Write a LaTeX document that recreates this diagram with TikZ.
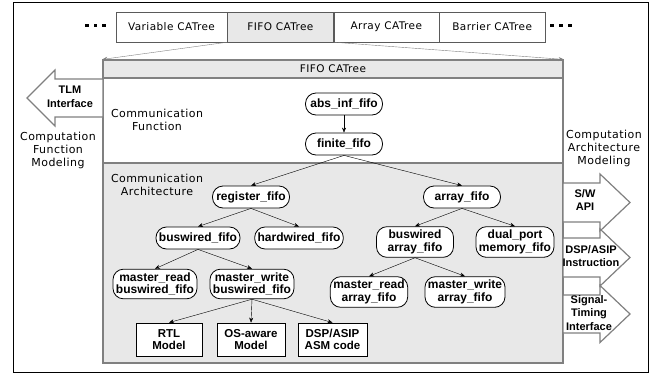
\documentclass[tikz,border=0pt]{standalone}
\usepackage{fontspec}
\setmainfont{Liberation Sans}
\newfontfamily\plainfont[LetterSpace=4]{DejaVu Sans}
\usepackage{xcolor}
\usepackage{tikz}
\usetikzlibrary{arrows.meta, positioning, calc}
\definecolor{panelgray}{RGB}{232,232,232}
\definecolor{rulegray}{RGB}{128,128,128}
\definecolor{tabline}{RGB}{90,90,90}

\begin{document}
\begin{tikzpicture}[x=1pt, y=-1pt,
    >={Stealth[length=5pt, width=4pt]},
    fifo/.style={draw, line width=0.8pt, fill=white, rounded corners=10.5pt, minimum width=77pt, minimum height=22pt,
      inner xsep=3pt, inner ysep=3.5pt, align=center, font=\fontsize{12}{12.5}\selectfont\bfseries},
    codebox/.style={draw, line width=0.8pt, fill=white, minimum width=66pt, minimum height=33pt, inner sep=2pt,
      align=center, font=\fontsize{11.5}{12.5}\selectfont\bfseries},
    tab/.style={draw=tabline, minimum height=30pt, inner sep=0pt, font=\plainfont\fontsize{10.5}{13}\selectfont},
    caption/.style={align=center, inner sep=0pt, font=\plainfont\fontsize{11}{13}\selectfont},
    arrowtext/.style={align=center, inner sep=0pt, font=\fontsize{11}{13.5}\selectfont\bfseries},
    blockarrow/.style={draw=rulegray, fill=white, line width=1.2pt, line join=miter}]
  \useasboundingbox (0,0) rectangle (661,375);

  % outer frame
  \draw[line width=0.8pt] (13,2) rectangle (648,372);

  % CATree tabs
  \node[tab, minimum width=111pt] at (171.5,27) (vartab) {Variable CATree};
  \node[tab, fill=panelgray, minimum width=106pt, right=0pt of vartab] (fifotab) {FIFO CATree};
  \node[tab, minimum width=105pt, right=0pt of fifotab] (arraytab) {Array CATree};
  \node[tab, minimum width=106pt, right=0pt of arraytab] (barriertab) {Barrier CATree};
  \foreach \x in {85,93.5,102,550,559,568}
    \fill (\x,23.5) rectangle ++(3.5,3.5);

  % expanded FIFO CATree
  \draw[rulegray, line width=1.2pt, fill=white] (103,78) rectangle (563,163);
  \draw[rulegray, line width=1.2pt, fill=panelgray] (103,163) rectangle (563,363);
  \node[draw=rulegray, line width=1.2pt, fill=panelgray, minimum width=460pt, minimum height=18pt,
    inner sep=0pt, font=\plainfont\fontsize{10.5}{13}\selectfont] at (333,69) (banner) {FIFO CATree};
  \draw[rulegray, ->] (fifotab.south west) -- (banner.north west);
  \draw[rulegray, ->] (fifotab.south east) -- (banner.north east);

  % block arrows
  \draw[blockarrow] (103,79) -- (55,79) -- (55,70) -- (27,98) -- (55,126) -- (55,117) -- (103,117) -- cycle;
  \draw[blockarrow] (563,183) -- (600,183) -- (600,174) -- (630,202.5) -- (600,231) -- (600,222) -- (563,222) -- cycle;
  \draw[blockarrow] (563,238) -- (600,238) -- (600,229) -- (630,257.5) -- (600,286) -- (600,277) -- (563,277) -- cycle;
  \draw[blockarrow] (563,295) -- (600,295) -- (600,285.5) -- (630,314) -- (600,342.5) -- (600,333) -- (563,333) -- cycle;
  \node[arrowtext] at (70,97) (tlm) {TLM\\Interface};
  \node[arrowtext] at (585,200) (swapi) {S/W\\API};
  \node[arrowtext] at (591,256) (dspinst) {DSP/ASIP\\Instruction};
  \node[arrowtext] at (589,313) (sigtime) {Signal-\\Timing\\Interface};

  % captions
  \node[caption] at (157,120) (commfunc) {Communication\\Function};
  \node[caption] at (157,185) (commarch) {Communication\\Architecture};
  \node[caption] at (58,150) (compfunc) {Computation\\Function\\Modeling};
  \node[caption] at (604,148) (comparch) {Computation\\Architecture\\Modeling};

  % fifo tree
  \node[fifo] at (344,104) (absfifo) {abs\_inf\_fifo};
  \node[fifo] at (344,144) (finite) {finite\_fifo};
  \node[fifo] at (251,197) (register) {register\_fifo};
  \node[fifo] at (462,197) (array) {array\_fifo};
  \node[fifo] at (198,238) (buswired) {buswired\_fifo};
  \node[fifo] at (299,238) (hardwired) {hardwired\_fifo};
  \node[fifo] at (415,242) (bwarray) {buswired\\array\_fifo};
  \node[fifo] at (515,242) (dualport) {dual\_port\\memory\_fifo};
  \node[fifo] at (155,284) (mread) {master\_read\\buswired\_fifo};
  \node[fifo] at (252,284) (mwrite) {master\_write\\buswired\_fifo};
  \node[fifo] at (369,292) (mreadarr) {master\_read\\array\_fifo};
  \node[fifo] at (465,292) (mwritearr) {master\_write\\array\_fifo};
  \node[codebox] at (169,339.5) (rtl) {RTL\\Model};
  \node[codebox, minimum width=68pt] at (251,339.5) (osaware) {OS-aware\\Model};
  \node[codebox, minimum width=69pt] at (332.5,339.5) (dspasm) {DSP/ASIP\\ASM code};

  \draw[->] (absfifo) -- (finite);
  \draw[->] (finite.south) -- (register.north);
  \draw[->] (finite.south) -- (array.north);
  \draw[->] (register.south) -- (buswired.north);
  \draw[->] (register.south) -- (hardwired.north);
  \draw[->] (buswired.south) -- (mread.north);
  \draw[->] (buswired.south) -- (mwrite.north);
  \draw[->] (mwrite.south) -- (rtl.north);
  \draw[->] (mwrite.south) -- (osaware.north);
  \draw[->] (mwrite.south) -- (dspasm.north);
  \draw[->] (array.south) -- (bwarray.north);
  \draw[->] (array.south) -- (dualport.north);
  \draw[->] (bwarray.south) -- (mreadarr.north);
  \draw[->] (bwarray.south) -- (mwritearr.north);
\end{tikzpicture}
\end{document}
